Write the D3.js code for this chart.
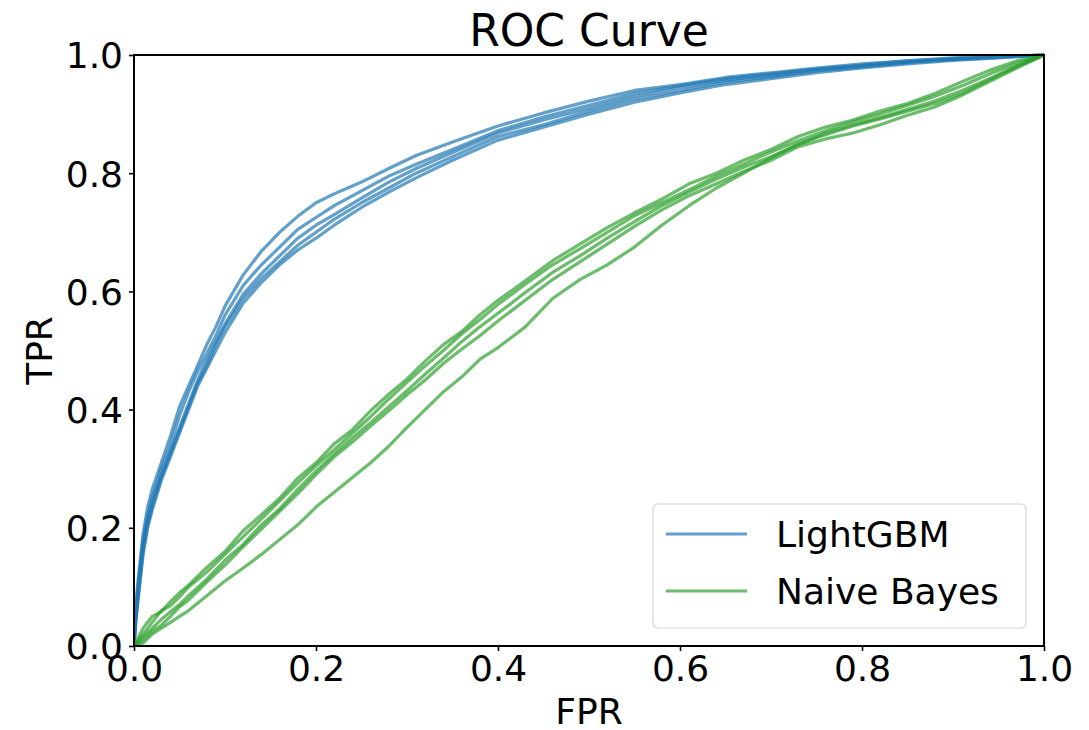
<!DOCTYPE html>
<html>
<head>
<meta charset="utf-8">
<script src="https://cdn.jsdelivr.net/npm/d3@7"></script>
<style>
  body { margin: 0; background: #fff; }
  svg { font-family: "DejaVu Sans", sans-serif; }
</style>
</head>
<body>
<svg id="chart" width="1089" height="730"></svg>
<script>
// LightGBM folds, false positive rate grid shared by all 5 folds
const lgbmFpr = [0, .002, .005, .01, .015, .02, .03, .04, .05, .06, .07, .08, .09, .10, .12, .14, .16, .18, .20, .22, .25, .28, .31, .35, .40, .45, .50, .55, .60, .65, .70, .75, .80, .85, .90, .95, 1];
const lgbmTpr1 = [0, .07, .12, .19, .235, .265, .31, .355, .405, .44, .475, .51, .54, .575, .628, .668, .70, .727, .75, .765, .785, .808, .83, .853, .88, .902, .922, .94, .95, .962, .97, .978, .985, .99, .995, .998, 1];
const lgbmTpr2 = [0, .05, .10, .18, .22, .25, .30, .34, .39, .43, .465, .495, .525, .56, .61, .645, .675, .705, .725, .745, .77, .795, .815, .84, .872, .895, .915, .935, .948, .96, .968, .976, .983, .99, .994, .997, 1];
const lgbmTpr3 = [0, .06, .11, .17, .215, .245, .29, .33, .37, .41, .45, .485, .515, .545, .595, .63, .66, .69, .712, .73, .758, .785, .808, .835, .868, .89, .91, .93, .945, .957, .966, .975, .982, .988, .993, .997, 1];
const lgbmTpr4 = [0, .04, .09, .16, .205, .235, .285, .325, .365, .405, .445, .475, .51, .54, .588, .622, .65, .678, .70, .722, .75, .775, .80, .828, .862, .882, .905, .925, .94, .954, .963, .973, .98, .987, .992, .996, 1];
const lgbmTpr5 = [0, .045, .085, .155, .20, .23, .28, .32, .36, .40, .44, .47, .50, .53, .58, .615, .645, .67, .69, .712, .742, .768, .792, .822, .856, .878, .90, .92, .936, .95, .96, .97, .978, .985, .991, .995, 1];

// Naive Bayes folds
const nbFpr = [0, .01, .02, .03, .04, .05, .06, .08, .10, .12, .14, .16, .18, .20, .22, .24, .26, .28, .30, .32, .34, .36, .38, .40, .43, .46, .49, .52, .55, .58, .61, .64, .67, .70, .73, .76, .79, .82, .85, .88, .91, .94, .97, 1];
const nbTpr1 = [0, .03, .05, .058, .075, .09, .103, .133, .16, .195, .222, .25, .284, .31, .342, .366, .398, .426, .452, .482, .51, .532, .56, .585, .618, .652, .68, .708, .733, .756, .782, .80, .822, .84, .862, .878, .89, .905, .918, .935, .955, .974, .99, 1];
const nbTpr2 = [0, .02, .04, .06, .068, .083, .10, .125, .155, .185, .215, .245, .276, .305, .332, .36, .388, .418, .446, .474, .50, .528, .552, .578, .612, .645, .672, .70, .728, .75, .772, .795, .815, .836, .855, .872, .887, .90, .915, .93, .948, .968, .986, 1];
const nbTpr3 = [0, .015, .03, .045, .058, .07, .085, .113, .145, .172, .205, .232, .265, .296, .325, .352, .378, .405, .432, .46, .487, .515, .54, .563, .598, .632, .66, .69, .718, .745, .768, .79, .81, .828, .848, .868, .882, .894, .908, .922, .94, .96, .982, 1];
const nbTpr4 = [0, .01, .025, .035, .05, .066, .078, .108, .137, .168, .198, .228, .258, .29, .32, .345, .372, .398, .425, .45, .478, .502, .525, .55, .585, .62, .65, .68, .71, .738, .762, .782, .803, .822, .845, .858, .868, .882, .898, .912, .932, .955, .978, 1];
const nbTpr5 = [0, .005, .02, .03, .04, .05, .06, .085, .11, .132, .155, .18, .205, .235, .26, .285, .31, .338, .37, .40, .43, .455, .485, .505, .54, .588, .62, .645, .675, .712, .745, .775, .80, .826, .85, .865, .88, .892, .905, .918, .935, .958, .98, 1];

const models = ["LightGBM", "Naive Bayes"];
const colors = ["#1f77b4", "#2ca02c"];
const ticks = [0, 0.2, 0.4, 0.6, 0.8, 1.0];

const margin = {top: 55, right: 45, bottom: 84, left: 134};
const width = 1089, height = 730;
const innerW = width - margin.left - margin.right;
const innerH = height - margin.top - margin.bottom;

const svg = d3.select("#chart");

const x = d3.scaleLinear().domain([0, 1]).range([margin.left, margin.left + innerW]);
const y = d3.scaleLinear().domain([0, 1]).range([margin.top + innerH, margin.top]);

// build line series from the arrays
const series = [];
[lgbmTpr1, lgbmTpr2, lgbmTpr3, lgbmTpr4, lgbmTpr5].forEach(t =>
  series.push({model: 0, pts: lgbmFpr.map((f, i) => [f, t[i]])}));
[nbTpr1, nbTpr2, nbTpr3, nbTpr4, nbTpr5].forEach(t =>
  series.push({model: 1, pts: nbFpr.map((f, i) => [f, t[i]])}));

const line = d3.line().x(d => x(d[0])).y(d => y(d[1]));

svg.append("defs").append("clipPath").attr("id", "clip")
  .append("rect")
  .attr("x", margin.left).attr("y", margin.top - 2)
  .attr("width", innerW + 2).attr("height", innerH + 2);

svg.append("g")
  .attr("clip-path", "url(#clip)")
  .selectAll("path")
  .data(series)
  .join("path")
  .attr("d", d => line(d.pts))
  .attr("fill", "none")
  .attr("stroke", d => colors[d.model])
  .attr("stroke-opacity", 0.7)
  .attr("stroke-width", 3.2)
  .attr("stroke-linejoin", "round");

// axes
const fmt = d3.format(".1f");
const xAxis = svg.append("g")
  .attr("transform", `translate(0,${margin.top + innerH})`)
  .call(d3.axisBottom(x).tickValues(ticks).tickFormat(fmt).tickSize(5).tickPadding(4));
const yAxis = svg.append("g")
  .attr("transform", `translate(${margin.left},0)`)
  .call(d3.axisLeft(y).tickValues(ticks).tickFormat(fmt).tickSize(5).tickPadding(6));

[xAxis, yAxis].forEach(g => {
  g.select(".domain").remove();
  g.selectAll(".tick line").attr("stroke", "#000").attr("stroke-width", 1.6);
  g.selectAll(".tick text")
    .attr("fill", "#000")
    .style("font-family", "DejaVu Sans")
    .style("font-size", "36px");
});
xAxis.selectAll(".tick text").attr("dy", "0.71em");
yAxis.selectAll(".tick text").attr("dy", "0.36em");

// frame
svg.append("rect")
  .attr("x", margin.left).attr("y", margin.top)
  .attr("width", innerW).attr("height", innerH)
  .attr("fill", "none").attr("stroke", "#000").attr("stroke-width", 2);

// title and labels
svg.append("text")
  .attr("x", margin.left + innerW / 2).attr("y", 46)
  .attr("text-anchor", "middle")
  .style("font-size", "44px")
  .text("ROC Curve");

svg.append("text")
  .attr("x", margin.left + innerW / 2).attr("y", 724)
  .attr("text-anchor", "middle")
  .style("font-size", "36px")
  .text("FPR");

svg.append("text")
  .attr("transform", `translate(52,${margin.top + innerH / 2}) rotate(-90)`)
  .attr("text-anchor", "middle")
  .style("font-size", "36px")
  .text("TPR");

// legend
const legend = svg.append("g");
legend.append("rect")
  .attr("x", 653).attr("y", 504)
  .attr("width", 373).attr("height", 124)
  .attr("rx", 5)
  .attr("fill", "#fff").attr("fill-opacity", 0.8)
  .attr("stroke", "#d6d6d6").attr("stroke-width", 1.2);

const items = legend.selectAll("g.item")
  .data(models)
  .join("g")
  .attr("class", "item")
  .attr("transform", (d, i) => `translate(0,${534 + i * 57})`);

items.append("line")
  .attr("x1", 666).attr("x2", 747)
  .attr("stroke", (d, i) => colors[i])
  .attr("stroke-opacity", 0.7)
  .attr("stroke-width", 3.2);

items.append("text")
  .attr("x", 776).attr("y", 13)
  .style("font-size", "36px")
  .text(d => d);
</script>
</body>
</html>
